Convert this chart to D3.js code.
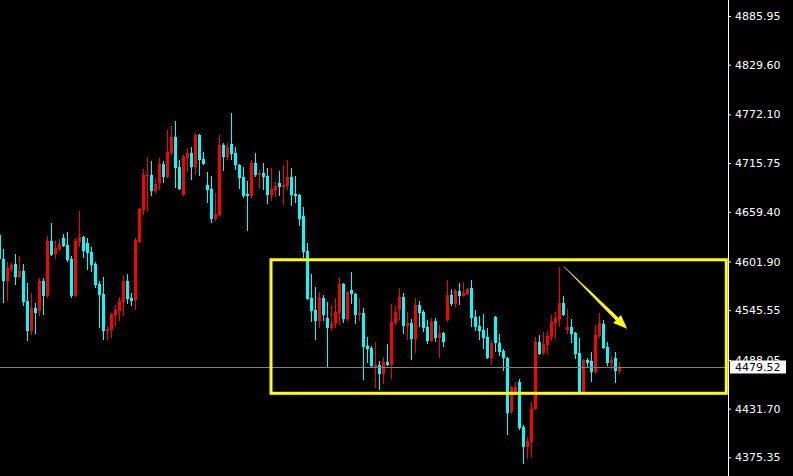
<!DOCTYPE html>
<html>
<head>
<meta charset="utf-8">
<script src="https://cdn.jsdelivr.net/npm/d3@7"></script>
<style>
    html, body { margin: 0; padding: 0; background: #000; }
    #chart { width: 793px; height: 476px; }
</style>
</head>
<body>
<div id="chart"></div>
<script>
// candle values, oldest first
const opens = [4632,4605,4579,4593,4599,4584,4591,4556,4521,4548,4545,4579,4562,4626,4611,4616,4629,4621,4605,4562,
    4624,4630,4623,4613,4599,4576,4564,4521,4523,4540,4545,4555,4579,4560,4557,4624,4661,4701,4702,4683,
    4693,4715,4700,4727,4746,4711,4679,4722,4727,4711,4748,4720,4690,4686,4651,4656,4737,4723,4738,4727,
    4714,4700,4680,4678,4716,4702,4704,4701,4679,4685,4693,4688,4689,4700,4680,4679,4654,4614,4560,4546,
    4533,4560,4537,4525,4531,4542,4576,4535,4569,4564,4540,4542,4504,4502,4480,4482,4472,4486,4482,4531,
    4546,4561,4527,4531,4512,4552,4543,4526,4510,4533,4513,4519,4534,4563,4553,4568,4562,4564,4571,4538,
    4527,4523,4515,4490,4538,4508,4498,4490,4428,4451,4462,4410,4387,4393,4431,4509,4496,4505,4515,4531,
    4535,4554,4523,4526,4519,4496,4451,4488,4487,4474,4516,4530,4503,4484,4490,4475];
const highs = [4633,4616,4601,4600,4611,4608,4599,4577,4565,4554,4583,4583,4631,4646,4626,4628,4634,4636,4608,4629,
    4660,4631,4629,4619,4601,4579,4584,4527,4542,4552,4561,4585,4587,4565,4629,4664,4709,4723,4718,4699,
    4722,4718,4754,4759,4764,4719,4725,4733,4734,4749,4749,4729,4705,4701,4681,4748,4739,4739,4774,4734,
    4715,4711,4695,4719,4727,4708,4716,4710,4710,4694,4707,4714,4719,4710,4701,4680,4665,4623,4588,4572,
    4567,4563,4555,4552,4560,4584,4577,4568,4590,4565,4560,4548,4515,4504,4509,4487,4491,4506,4553,4550,
    4571,4565,4543,4535,4560,4556,4546,4534,4537,4537,4528,4520,4580,4570,4570,4577,4578,4571,4580,4546,
    4539,4541,4525,4511,4539,4518,4501,4491,4458,4462,4466,4413,4399,4439,4515,4517,4520,4521,4540,4543,
    4595,4562,4547,4535,4520,4513,4489,4490,4497,4528,4542,4534,4509,4493,4497,4486];
const lows = [4601,4554,4556,4590,4575,4583,4550,4510,4517,4518,4539,4540,4560,4608,4605,4614,4619,4601,4560,4561,
    4619,4606,4592,4590,4571,4525,4511,4511,4513,4527,4533,4539,4553,4550,4546,4623,4656,4659,4678,4681,
    4685,4693,4699,4725,4687,4685,4678,4705,4696,4702,4701,4714,4670,4647,4649,4655,4707,4719,4719,4708,
    4686,4675,4637,4675,4700,4687,4685,4668,4672,4677,4678,4667,4685,4666,4670,4643,4606,4557,4532,4511,
    4525,4533,4480,4521,4525,4528,4531,4533,4553,4530,4533,4465,4484,4480,4456,4453,4460,4481,4466,4528,
    4534,4518,4511,4488,4496,4526,4520,4506,4509,4509,4490,4503,4532,4550,4549,4552,4561,4563,4526,4521,
    4511,4501,4489,4482,4497,4493,4475,4401,4425,4450,4407,4368,4373,4375,4430,4494,4494,4494,4510,4512,
    4526,4539,4518,4508,4489,4450,4450,4479,4462,4472,4513,4501,4481,4478,4461,4472];
const closes = [4605,4579,4594,4598,4584,4591,4555,4521,4548,4542,4579,4562,4626,4609,4617,4622,4620,4604,4562,4626,
    4630,4614,4612,4598,4575,4563,4521,4524,4541,4546,4556,4579,4558,4556,4627,4663,4702,4702,4683,4692,
    4715,4700,4729,4746,4710,4686,4723,4727,4711,4748,4719,4715,4685,4651,4657,4737,4723,4734,4726,4714,
    4699,4678,4678,4716,4702,4704,4700,4679,4686,4689,4688,4690,4700,4679,4678,4651,4613,4558,4545,4533,
    4560,4540,4525,4531,4543,4576,4535,4567,4564,4540,4542,4503,4501,4481,4482,4472,4486,4482,4532,4543,
    4561,4527,4531,4512,4552,4542,4525,4510,4532,4513,4519,4509,4563,4553,4568,4562,4565,4570,4537,4526,
    4521,4513,4490,4508,4508,4497,4490,4427,4457,4457,4409,4387,4394,4431,4509,4495,4506,4516,4532,4537,
    4554,4540,4526,4518,4495,4451,4488,4484,4474,4517,4531,4502,4484,4488,4475,4479.52];

// price scale labels on the right
const priceTicks = [4885.95, 4829.60, 4772.10, 4715.75, 4659.40, 4601.90, 4545.55, 4488.05, 4431.70, 4375.35];
const lastPrice = 4479.52;

// drawn objects: the yellow range box and the down arrow (bar index / price)
const boxBars = [67.875, 181.7];
const boxPrices = [4603.9, 4449.4];
const arrowBars = [141.1, 156.9];
const arrowPrices = [4596, 4524];

class CandleChart {
    constructor(parentElement) {
        this.parentElement = parentElement;
        this.initVis();
    }

    initVis() {
        let vis = this;

        vis.width = 793;
        vis.height = 476;
        vis.axisX = 728;

        vis.svg = d3.select(`#${vis.parentElement}`)
            .append("svg")
            .attr("width", vis.width)
            .attr("height", vis.height)
            .style("display", "block")
            .style("background", "#000");

        vis.wrangleData();
    }

    wrangleData() {
        let vis = this;

        vis.candles = opens.map((o, i) => ({
            i: i,
            open: o,
            high: highs[i],
            low: lows[i],
            close: closes[i],
            up: closes[i] >= o
        }));

        vis.updateVis();
    }

    updateVis() {
        let vis = this;

        // 4 px per bar, bar 0 partly off the left edge
        vis.x = d3.scaleLinear()
            .domain([0, vis.candles.length - 1])
            .range([-0.5, (vis.candles.length - 1) * 4 - 0.5]);

        vis.y = d3.scaleLinear()
            .domain([4375.35, 4885.95])
            .range([457.3, 16]);

        const bull = "#ff0000", bear = "#00ffff";

        // wicks
        vis.svg.append("g").selectAll(".wick")
            .data(vis.candles)
            .enter()
            .append("rect")
            .attr("class", "wick")
            .attr("x", d => vis.x(d.i) - 0.5)
            .attr("y", d => Math.round(vis.y(d.high)))
            .attr("width", 1)
            .attr("height", d => Math.max(1, Math.round(vis.y(d.low)) - Math.round(vis.y(d.high))))
            .attr("fill", d => d.up ? bull : bear);

        // bodies
        vis.svg.append("g").selectAll(".body")
            .data(vis.candles)
            .enter()
            .append("rect")
            .attr("class", "body")
            .attr("x", d => vis.x(d.i) - 1.5)
            .attr("y", d => Math.round(vis.y(Math.max(d.open, d.close))))
            .attr("width", 3)
            .attr("height", d => Math.max(1, Math.round(vis.y(Math.min(d.open, d.close))) - Math.round(vis.y(Math.max(d.open, d.close)))))
            .attr("fill", d => d.up ? bull : bear);

        // current price line
        let yLast = Math.round(vis.y(lastPrice)) + 0.5;
        vis.svg.append("line")
            .attr("x1", 0)
            .attr("x2", vis.axisX)
            .attr("y1", yLast)
            .attr("y2", yLast)
            .attr("stroke", "#808080")
            .attr("stroke-width", 1);

        // yellow range box
        vis.svg.append("rect")
            .attr("x", vis.x(boxBars[0]))
            .attr("y", vis.y(boxPrices[0]))
            .attr("width", vis.x(boxBars[1]) - vis.x(boxBars[0]))
            .attr("height", vis.y(boxPrices[1]) - vis.y(boxPrices[0]))
            .attr("fill", "none")
            .attr("stroke", "#ffff00")
            .attr("stroke-width", 3);

        // arrow
        let x1 = vis.x(arrowBars[0]), y1 = vis.y(arrowPrices[0]);
        let x2 = vis.x(arrowBars[1]), y2 = vis.y(arrowPrices[1]);
        let len = Math.hypot(x2 - x1, y2 - y1);
        let ux = (x2 - x1) / len, uy = (y2 - y1) / len;
        let headLen = 14, headHalf = 5.5;
        let bx = x2 - ux * headLen, by = y2 - uy * headLen;

        let grad = vis.svg.append("defs").append("linearGradient")
            .attr("id", "arrowGrad")
            .attr("gradientUnits", "userSpaceOnUse")
            .attr("x1", x1).attr("y1", y1)
            .attr("x2", bx).attr("y2", by);
        grad.append("stop").attr("offset", "0%").attr("stop-color", "#8a8a00");
        grad.append("stop").attr("offset", "45%").attr("stop-color", "#ffff00");

        vis.svg.append("path")
            .attr("d", `M${x1},${y1} L${bx - uy * 1.5},${by + ux * 1.5} L${bx + uy * 1.5},${by - ux * 1.5} Z`)
            .attr("fill", "url(#arrowGrad)")
            .attr("stroke", "url(#arrowGrad)")
            .attr("stroke-width", 1);

        vis.svg.append("path")
            .attr("d", `M${x2},${y2} L${bx - uy * headHalf},${by + ux * headHalf} L${bx + uy * headHalf},${by - ux * headHalf} Z`)
            .attr("fill", "#ffff00");

        // price axis
        vis.svg.append("line")
            .attr("x1", vis.axisX + 0.5)
            .attr("x2", vis.axisX + 0.5)
            .attr("y1", 0)
            .attr("y2", vis.height)
            .attr("stroke", "#ffffff");

        let axis = vis.svg.append("g")
            .attr("class", "y-axis")
            .attr("transform", `translate(${vis.axisX},0)`)
            .call(d3.axisRight(vis.y)
                .tickValues(priceTicks)
                .tickFormat(d => d.toFixed(2))
                .tickSize(3)
                .tickPadding(4));
        axis.select(".domain").remove();
        axis.selectAll("line").attr("stroke", "#ffffff");
        axis.selectAll("text")
            .style("fill", "#ffffff")
            .style("font-family", "DejaVu Sans")
            .style("font-size", "11px");

        // last price tag
        vis.svg.append("rect")
            .attr("x", vis.axisX + 2)
            .attr("y", yLast - 7)
            .attr("width", 56)
            .attr("height", 13)
            .attr("fill", "#ffffff");
        vis.svg.append("text")
            .attr("x", vis.axisX + 7)
            .attr("y", yLast)
            .attr("dy", "0.32em")
            .style("font-family", "DejaVu Sans")
            .style("font-size", "11px")
            .style("fill", "#000000")
            .text(lastPrice.toFixed(2));
    }
}

new CandleChart("chart");
</script>
</body>
</html>
